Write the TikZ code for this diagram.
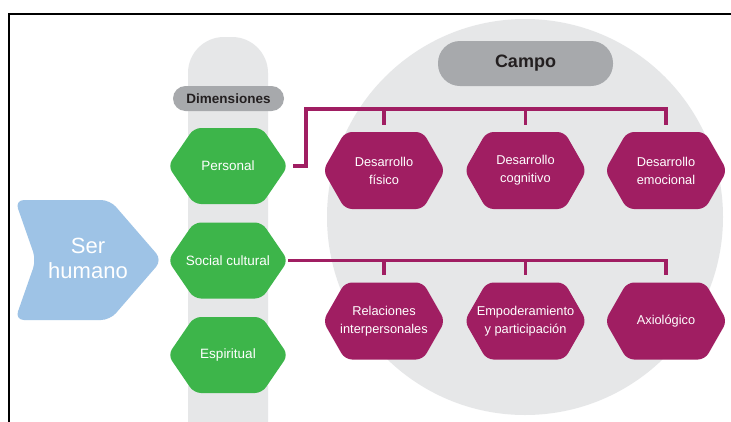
\documentclass[tikz,border=0pt]{standalone}
\usepackage{fontspec}
\setmainfont{Liberation Sans}
\setsansfont{Liberation Sans}
\definecolor{lg}{RGB}{230,231,232}
\definecolor{pillgray}{RGB}{167,169,172}
\definecolor{grn}{RGB}{61,181,74}
\definecolor{purp}{RGB}{160,30,98}
\definecolor{blu}{RGB}{158,195,230}
\definecolor{ink}{RGB}{35,31,32}
\tikzset{
  hexbase/.style={inner sep=0pt, align=center, text=white},
  hexg/.style={hexbase, minimum width=120pt, minimum height=76pt,
    font=\fontsize{13.5}{17}\selectfont,
    path picture={\fill[grn, rounded corners=7pt]
      (path picture bounding box.west) --
      ([xshift=26pt]path picture bounding box.north west) --
      ([xshift=-26pt]path picture bounding box.north east) --
      (path picture bounding box.east) --
      ([xshift=-26pt]path picture bounding box.south east) --
      ([xshift=26pt]path picture bounding box.south west) -- cycle;}},
  hexp/.style={hexbase, minimum width=122pt, minimum height=77pt,
    font=\fontsize{12.8}{18}\selectfont,
    path picture={\fill[purp, rounded corners=7pt]
      (path picture bounding box.west) --
      ([xshift=22pt]path picture bounding box.north west) --
      ([xshift=-22pt]path picture bounding box.north east) --
      (path picture bounding box.east) --
      ([xshift=-22pt]path picture bounding box.south east) --
      ([xshift=22pt]path picture bounding box.south west) -- cycle;}},
  pill/.style={fill=pillgray, text=ink, inner sep=0pt, font=\bfseries},
  conn/.style={draw=purp, line width=3.4pt, line join=miter}
}
\begin{document}
\begin{tikzpicture}[x=1pt,y=-1pt]
\useasboundingbox (0,0) rectangle (731,421);
\fill[white] (0,0) rectangle (731,421);
\clip (0,0) rectangle (731,421);
% background shapes
\fill[lg] (525,217) circle (198pt);
\fill[lg, rounded corners=36pt] (188,460) -- (188,37) -- (268,37) -- (268,460);
% frame
\draw[line width=2pt, line cap=rect] (9,430) -- (9,14) -- (740,14);
% Ser humano chevron
\fill[blu, rounded corners=9pt] (15,200) -- (110,200) -- (162,260) -- (110,320) -- (15,320) -- (36,260) -- cycle;
\node[text=white, align=center, font=\fontsize{22}{25}\selectfont] (ser) at (88,258) {Ser\\humano};
% pills
\node[pill, minimum width=175pt, minimum height=45pt, rounded corners=22pt,
      font=\bfseries\fontsize{18}{20}\selectfont] (campo) at (525.5,63.5) {Campo};
\node[pill, minimum width=111pt, minimum height=25pt, rounded corners=12.5pt,
      font=\bfseries\fontsize{13.5}{15}\selectfont] (dim) at (228.5,98.5) {Dimensiones};
% green hexagons
\node[hexg] (personal) at (228,166) {Personal};
\node[hexg] (social) at (228,260.5) {Social cultural};
\node[hexg] (espiritual) at (228,355) {Espiritual};
% purple hexagons
\node[hexp] (d1) at (384,170.5) {Desarrollo\\físico};
\node[hexp] (d2) at (525.5,170.5) {Desarrollo\\cognitivo};
\node[hexp] (d3) at (666,170.5) {Desarrollo\\emocional};
\node[hexp] (r1) at (384,321) {Relaciones\\interpersonales};
\node[hexp] (r2) at (525.5,321) {Empoderamiento\\y participación};
\node[hexp] (r3) at (666,321) {Axiológico};
% connectors
\coordinate (tl) at (306,109);
\draw[conn] ([xshift=5pt]personal.east) -- (tl |- personal.east) -- (tl) -- (d3.north |- tl) -- ([yshift=7pt]d3.north);
\draw[conn] (d1.north |- tl) -- ([yshift=7pt]d1.north);
\draw[conn] (d2.north |- tl) -- ([yshift=7pt]d2.north);
\draw[conn] (social.east) -- (r3.north |- social.east) -- ([yshift=7pt]r3.north);
\draw[conn] (r1.north |- social.east) -- ([yshift=7pt]r1.north);
\draw[conn] (r2.north |- social.east) -- ([yshift=7pt]r2.north);
\end{tikzpicture}
\end{document}
